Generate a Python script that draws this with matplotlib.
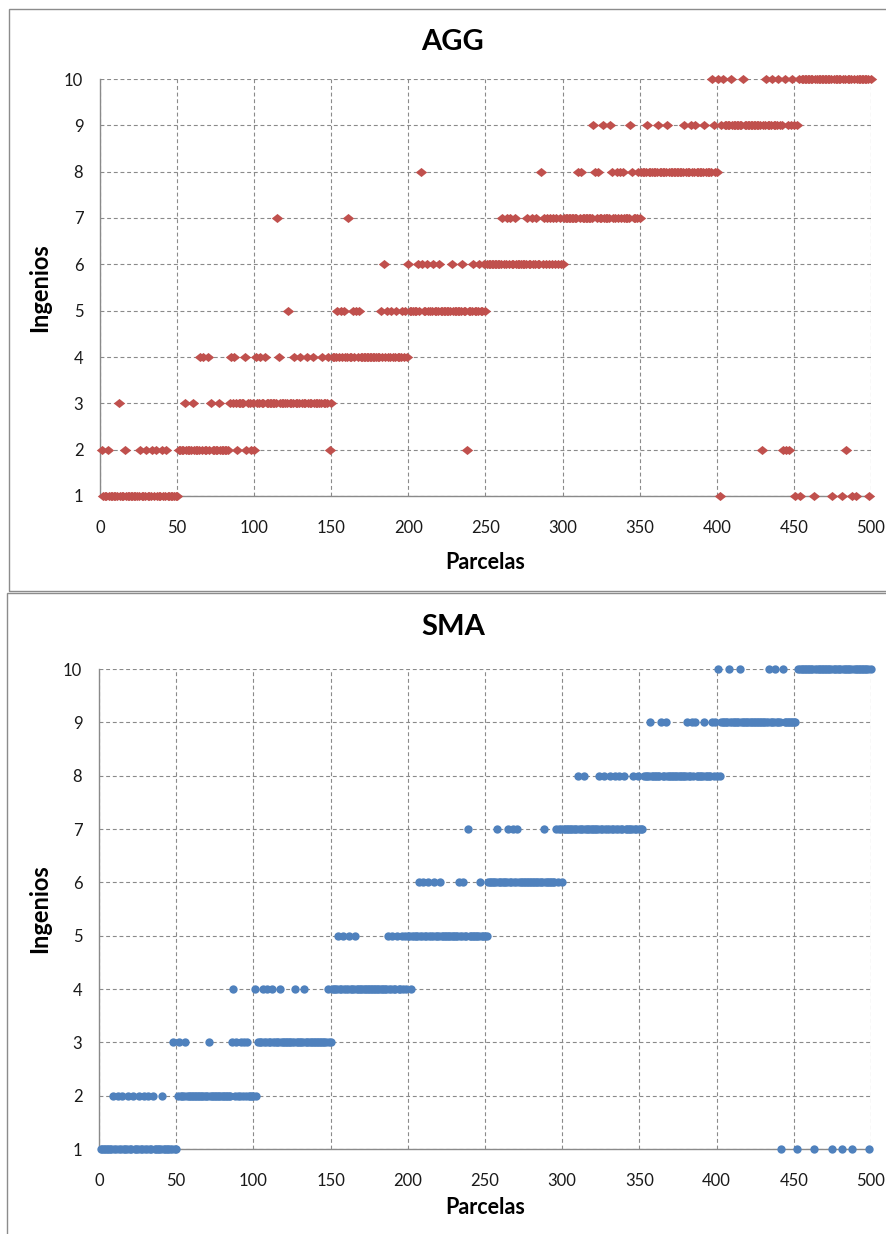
import numpy as np
import matplotlib
matplotlib.use("Agg")
import matplotlib.pyplot as plt
from matplotlib.patches import Rectangle

plt.rcParams['font.family'] = ['Lato', 'DejaVu Sans']

# ingenio asignado a cada parcela, 50 parcelas por cadena ('0' = ingenio 10)
agg_rows = [
    "2111211111" "1311121111" "1111121112" "1112121112" "1121111111",
    "2222322223" "2222424224" "2322223222" "2223434323" "3334233232",
    "4334334333" "3333743333" "3533343334" "3334333433" "3334333423",
    "4445454544" "7445454544" "4444444444" "4546454454" "4544454546",
    "5555565865" "5655565556" "5555555655" "5555655255" "5655565565",
    "6666666666" "7667676676" "6666667667" "6676686767" "6767676766",
    "7777777778" "7877777779" "8787797777" "9877878787" "7779877787",
    "8888988888" "8988888988" "8888888898" "8898898888" "8988880988",
    "0190999909" "9999990999" "9999999929" "9099909990" "9920292909",
    "1901000000" "0010000000" "0000100000" "1002000101" "0000000010",
]
sma_rows = [
    "1111111121" "1211211121" "1211121121" "1211211111" "2111111311",
    "2322232222" "2222222222" "3222222222" "2222234232" "2323232222",
    "4233343343" "3433334333" "3333334333" "3343333333" "3333333433",
    "4444544544" "4544454444" "4444444444" "4444445445" "4454454545",
    "5455556556" "5565556555" "6555555555" "5565565575" "5555556555",
    "5666666766" "6666766766" "7666666666" "6666666766" "6666676776",
    "7777777778" "7778777777" "7778778777" "8778778778" "7777787787",
    "7788889888" "8889889888" "8888888888" "9889898888" "8988889898",
    "0899999099" "9999099999" "9999999999" "9990999099" "9109999999",
    "9100000000" "0010000000" "0000100000" "1000000100" "0000000010",
]
titles = ["AGG", "SMA"]
x_ticks = list(range(0, 501, 50))
y_ticks = list(range(1, 11))


def decode(rows):
    return np.array([10 if c == "0" else int(c) for c in "".join(rows)])


parcelas = np.arange(1, 501)
agg = decode(agg_rows)
sma = decode(sma_rows)

W, H = 887, 1234
fig = plt.figure(figsize=(W / 100, H / 100), dpi=100)

def fx(px):
    return px / W

def fy(py):
    return 1 - py / H

# marcos de los dos graficos
fig.add_artist(Rectangle((fx(9), fy(591)), fx(900 - 9), (591 - 9) / H,
                         transform=fig.transFigure, fill=False,
                         edgecolor="#8c8c8c", lw=1))
fig.add_artist(Rectangle((fx(7), fy(1240)), fx(900 - 7), (1240 - 593) / H,
                         transform=fig.transFigure, fill=False,
                         edgecolor="#8c8c8c", lw=1))

diamond = [(-1, 0), (0, 0.8), (1, 0), (0, -0.8), (-1, 0)]

panels = [
    # (datos, caja del eje en px, marcador, tam, color, y titulo, y etiqueta x)
    (agg, (100, 871, 79, 496), diamond, 8.2, "#C0504D", 42, 563),
    (sma, (99, 871, 669, 1149), "o", 6.0, "#4F81BD", 627, 1208),
]

for (vals, box, mk, ms, col, ty, ly), title in zip(panels, titles):
    l, r, t, b = box
    ax = fig.add_axes([fx(l), fy(b), (r - l) / W, (b - t) / H])
    ax.scatter(parcelas, vals, marker=mk, s=ms ** 2, color=col,
               linewidths=0, clip_on=False, zorder=3)
    ax.set_xlim(0, 500)
    ax.set_ylim(1, 10)
    ax.set_xticks(x_ticks)
    ax.set_yticks(y_ticks)
    ax.set_axisbelow(True)
    ax.grid(True, color="#8a8a8a", linestyle=(0, (3.5, 2.5)), linewidth=0.8)
    for s in ("top", "right"):
        ax.spines[s].set_visible(False)
    for s in ("left", "bottom"):
        ax.spines[s].set_color("#8a8a8a")
        ax.spines[s].set_linewidth(1.0)
    ax.tick_params(axis="both", length=0, labelsize=12, colors="#1a1a1a")
    ax.tick_params(axis="y", pad=12)
    ax.tick_params(axis="x", pad=17)

    fig.text(fx(453), fy(ty), title, ha="center", va="center",
             fontsize=21, fontweight="bold")
    fig.text(fx((l + r) / 2), fy(ly), "Parcelas", ha="center", va="center",
             fontsize=15.5, fontweight="bold")
    fig.text(fx(40), fy((t + b) / 2), "Ingenios", ha="center", va="center",
             rotation=90, fontsize=17, fontweight="bold")

fig.savefig("out.png", dpi=100)
